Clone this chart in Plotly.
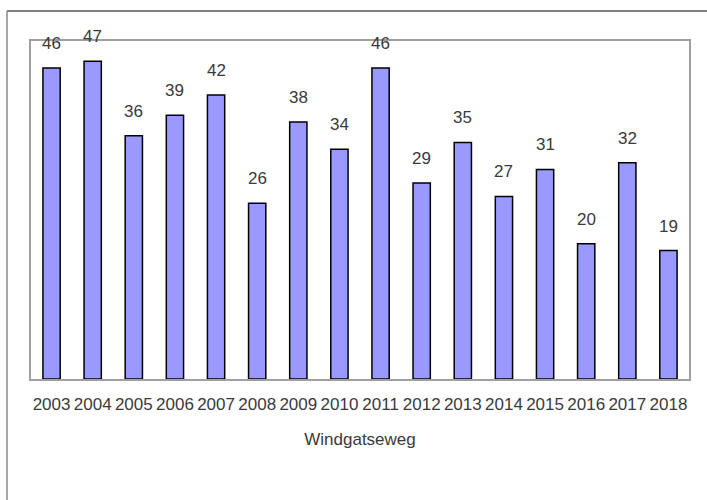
import plotly.graph_objects as go

YEARS = [str(y) for y in range(2003, 2019)]
COUNTS = [46, 47, 36, 39, 42, 26, 38, 34, 46, 29, 35, 27, 31, 20, 32, 19]
X_TITLE = "Windgatseweg"

BAR_COLOUR = "#9999FF"
TEXT_COLOUR = "#3a3a3a"
FONT_FAMILY = "Liberation Sans, Arial, sans-serif"

fig = go.Figure()
fig.add_trace(go.Bar(
    x = YEARS,
    y = COUNTS,
    width = 0.42,
    marker = dict(color=BAR_COLOUR, line=dict(color="#000000", width=1.5)),
    hoverinfo = "x+y",
))

# value labels sit well above each bar (category index as x)
for i, val in enumerate(COUNTS):
    fig.add_annotation(
        x = i, y = val,
        text = str(val),
        showarrow = False,
        yanchor = "bottom",
        yshift = 13,
        font = dict(size=17, color=TEXT_COLOUR, family=FONT_FAMILY),
    )

# outer frame (top and left only visible in the reference)
fig.add_shape(type="line", xref="paper", yref="paper",
              x0=-0.0365, x1=1.03, y0=1.0888, y1=1.0888,
              line=dict(color="#555555", width=1.5))
fig.add_shape(type="line", xref="paper", yref="paper",
              x0=-0.0365, x1=-0.0365, y0=-0.36, y1=1.0888,
              line=dict(color="#888888", width=1.5))

fig.update_layout(
    width = 707,
    height = 500,
    margin = dict(l=31, r=18, t=41, b=121),
    paper_bgcolor = "white",
    plot_bgcolor = "white",
    showlegend = False,
    font = dict(family=FONT_FAMILY, size=17, color=TEXT_COLOUR),
    xaxis = dict(
        type="category", range=[-0.5, len(YEARS) - 0.5],
        showgrid=False, zeroline=False, ticks="",
        showline=True, linecolor="#a0a0a0", linewidth=2, mirror=True,
        tickfont=dict(size=17, color=TEXT_COLOUR),
        ticklabelstandoff=9,
        title=dict(text=X_TITLE, font=dict(size=17, color=TEXT_COLOUR), standoff=20),
    ),
    yaxis = dict(
        range=[0, 50], showgrid=False, zeroline=False, showticklabels=False,
        ticks="", showline=True, linecolor="#a0a0a0", linewidth=2, mirror=True,
    ),
)

fig.write_html("out.html", config=dict(displayModeBar=False),
               post_script="document.body.style.margin='0px';")
